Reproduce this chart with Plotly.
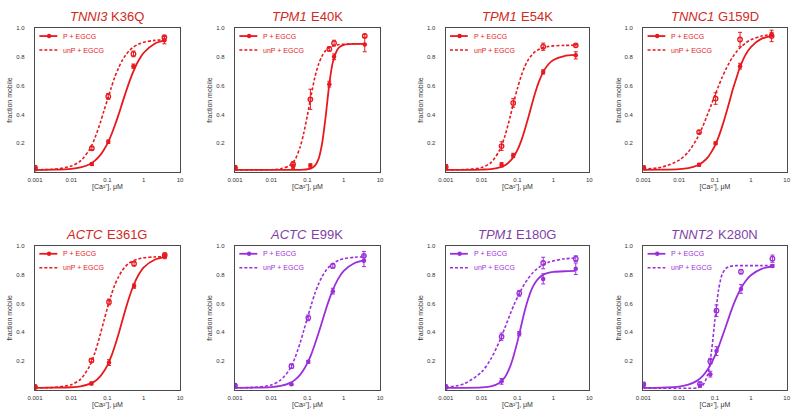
import plotly.graph_objects as go

# ---------------- data ----------------
GENES = ["TNNI3", "TPM1", "TPM1", "TNNC1", "ACTC", "ACTC", "TPM1", "TNNT2"]
MUTATIONS = ["K36Q", "E40K", "E54K", "G159D", "E361G", "E99K", "E180G", "K280N"]
SERIES = ["P + EGCG", "unP + EGCG"]
X_TICKS = [0.001, 0.01, 0.1, 1, 10]
X_TICK_TEXT = ["0.001", "0.01", "0.1", "1", "10"]
Y_TICKS = [0.2, 0.4, 0.6, 0.8, 1.0]
Y_TICK_TEXT = ["0.2", "0.4", "0.6", "0.8", "1.0"]
X_TITLE = "[Ca²⁺], μM"
Y_TITLE = "fraction mobile"

# calcium concentrations (uM) at which the fitted curves were read
CA_FIT = [0.001, 0.0032, 0.01, 0.018, 0.032, 0.045, 0.063, 0.079, 0.1, 0.126,
          0.158, 0.2, 0.251, 0.316, 0.398, 0.501, 0.708, 1.0, 2.0, 4.0]

# panel 1  TNNI3 K36Q
p1_x = [0.001, 0.037, 0.105, 0.52, 3.7]
p1_p = [0.02, 0.055, 0.21, 0.735, 0.915]
p1_p_err = [0.012, 0.01, 0.012, 0.015, 0.025]
p1_u = [0.03, 0.165, 0.525, 0.82, 0.935]
p1_u_err = [0.01, 0.01, 0.02, 0.02, 0.015]
p1_fit_p = [0.015, 0.016, 0.022, 0.032, 0.054, 0.079, 0.117, 0.153, 0.199, 0.255,
            0.321, 0.395, 0.473, 0.550, 0.624, 0.690, 0.771, 0.828, 0.891, 0.915]
p1_fit_u = [0.016, 0.019, 0.041, 0.077, 0.157, 0.237, 0.341, 0.421, 0.504, 0.584,
            0.658, 0.721, 0.772, 0.812, 0.843, 0.865, 0.887, 0.901, 0.914, 0.918]

# panel 2  TPM1 E40K
p2_x = [0.001, 0.04, 0.12, 0.40, 0.54, 3.8]
p2_p = [0.03, 0.04, 0.045, 0.61, 0.80, 0.885]
p2_p_err = [0.01, 0.015, 0.012, 0.02, 0.02, 0.05]
p2_u = [0.03, 0.055, 0.505, 0.855, 0.895, 0.945]
p2_u_err = [0.01, 0.015, 0.07, 0.015, 0.02, 0.01]
p2_fit_p = [0.015, 0.015, 0.015, 0.015, 0.015, 0.015, 0.015, 0.016, 0.019, 0.025,
            0.042, 0.088, 0.194, 0.382, 0.607, 0.763, 0.859, 0.883, 0.890, 0.890]
p2_fit_u = [0.015, 0.015, 0.016, 0.021, 0.045, 0.085, 0.175, 0.272, 0.397, 0.532,
            0.653, 0.745, 0.805, 0.843, 0.864, 0.876, 0.884, 0.887, 0.890, 0.890]

# panel 3  TPM1 E54K
p3_x = [0.001, 0.036, 0.076, 0.52, 4.2]
p3_p = [0.04, 0.05, 0.115, 0.695, 0.81]
p3_p_err = [0.012, 0.015, 0.015, 0.015, 0.025]
p3_u = [0.035, 0.18, 0.48, 0.87, 0.88]
p3_u_err = [0.01, 0.03, 0.03, 0.025, 0.005]
p3_fit_p = [0.015, 0.015, 0.017, 0.020, 0.032, 0.047, 0.077, 0.108, 0.153, 0.214,
            0.290, 0.378, 0.469, 0.556, 0.629, 0.687, 0.745, 0.778, 0.805, 0.813]
p3_fit_u = [0.015, 0.017, 0.031, 0.064, 0.153, 0.253, 0.388, 0.487, 0.582, 0.665,
            0.730, 0.780, 0.813, 0.837, 0.852, 0.863, 0.871, 0.876, 0.879, 0.880]

# panel 4  TNNC1 G159D
p4_x = [0.001, 0.036, 0.104, 0.50, 3.8]
p4_p = [0.03, 0.05, 0.20, 0.735, 0.955]
p4_p_err = [0.01, 0.01, 0.01, 0.02, 0.015]
p4_u = [0.03, 0.277, 0.51, 0.92, 0.945]
p4_u_err = [0.01, 0.01, 0.04, 0.05, 0.04]
p4_fit_p = [0.015, 0.016, 0.020, 0.027, 0.045, 0.068, 0.102, 0.138, 0.184, 0.244,
            0.315, 0.399, 0.486, 0.576, 0.655, 0.729, 0.813, 0.868, 0.926, 0.946]
p4_fit_u = [0.020, 0.033, 0.082, 0.139, 0.235, 0.313, 0.404, 0.468, 0.534, 0.597,
            0.657, 0.712, 0.760, 0.801, 0.835, 0.863, 0.895, 0.918, 0.944, 0.956]

# panel 5  ACTC E361G
p5_x = [0.001, 0.036, 0.11, 0.54, 3.8]
p5_p = [0.025, 0.045, 0.19, 0.72, 0.925]
p5_p_err = [0.01, 0.01, 0.02, 0.015, 0.015]
p5_u = [0.02, 0.205, 0.61, 0.875, 0.935]
p5_u_err = [0.01, 0.01, 0.02, 0.015, 0.015]
p5_fit_p = [0.015, 0.016, 0.019, 0.025, 0.042, 0.061, 0.095, 0.128, 0.173, 0.231,
            0.302, 0.384, 0.473, 0.561, 0.643, 0.714, 0.795, 0.850, 0.903, 0.922]
p5_fit_u = [0.015, 0.018, 0.037, 0.074, 0.165, 0.259, 0.384, 0.477, 0.570, 0.655,
            0.727, 0.783, 0.826, 0.857, 0.880, 0.894, 0.908, 0.916, 0.922, 0.924]

# panel 6  ACTC E99K
p6_x = [0.001, 0.036, 0.105, 0.50, 3.6]
p6_p = [0.035, 0.04, 0.195, 0.685, 0.895]
p6_p_err = [0.01, 0.008, 0.01, 0.02, 0.04]
p6_u = [0.03, 0.165, 0.50, 0.86, 0.93]
p6_u_err = [0.01, 0.015, 0.02, 0.015, 0.03]
p6_fit_p = [0.015, 0.016, 0.020, 0.028, 0.048, 0.070, 0.107, 0.142, 0.188, 0.245,
            0.314, 0.391, 0.471, 0.553, 0.628, 0.694, 0.772, 0.825, 0.880, 0.900]
p6_fit_u = [0.015, 0.018, 0.035, 0.068, 0.142, 0.222, 0.328, 0.413, 0.501, 0.587,
            0.666, 0.732, 0.785, 0.825, 0.855, 0.877, 0.898, 0.910, 0.920, 0.923]

# panel 7  TPM1 E180G
p7_x = [0.001, 0.036, 0.112, 0.52, 4.2]
p7_p = [0.025, 0.06, 0.39, 0.77, 0.84]
p7_p_err = [0.01, 0.02, 0.015, 0.035, 0.04]
p7_u = [0.02, 0.37, 0.67, 0.88, 0.91]
p7_u_err = [0.01, 0.025, 0.02, 0.04, 0.02]
p7_fit_p = [0.015, 0.015, 0.018, 0.025, 0.051, 0.090, 0.166, 0.242, 0.337, 0.443,
            0.546, 0.634, 0.700, 0.746, 0.777, 0.796, 0.811, 0.818, 0.823, 0.825]
p7_fit_u = [0.018, 0.042, 0.125, 0.214, 0.342, 0.434, 0.528, 0.588, 0.643, 0.693,
            0.737, 0.774, 0.805, 0.830, 0.850, 0.866, 0.884, 0.895, 0.909, 0.915]

# panel 8  TNNT2 K280N
p8_x = [0.001, 0.038, 0.074, 0.11, 0.53, 4.0]
p8_p = [0.03, 0.03, 0.11, 0.27, 0.70, 0.86]
p8_p_err = [0.015, 0.01, 0.02, 0.03, 0.03, 0.01]
p8_u = [0.04, 0.043, 0.20, 0.55, 0.82, 0.91]
p8_u_err = [0.01, 0.01, 0.02, 0.04, 0.015, 0.025]
p8_fit_p = [0.015, 0.017, 0.024, 0.037, 0.065, 0.096, 0.143, 0.186, 0.238, 0.299,
            0.368, 0.440, 0.512, 0.581, 0.642, 0.694, 0.754, 0.795, 0.839, 0.856]
p8_fit_u = [0.012, 0.012, 0.012, 0.012, 0.015, 0.031, 0.109, 0.258, 0.491, 0.695,
            0.801, 0.842, 0.855, 0.860, 0.862, 0.862, 0.862, 0.862, 0.862, 0.862]

# ---------------- styling ----------------
RED_LINE, RED_TITLE = "#e8191e", "#d02a22"
PUR_LINE, PUR_TITLE = "#9b2fdb", "#7f3fa8"
LINE_COLORS = [RED_LINE] * 5 + [PUR_LINE] * 3
TITLE_COLORS = [RED_TITLE] * 5 + [PUR_TITLE] * 3
FONT = "Liberation Sans, Arial, sans-serif"
TITLE_SIZE = 13

# Arial advance widths (1/1000 em) used only to butt the italic gene name
# against the upright mutation label in each panel title
ARIAL_W = {"T": 611, "N": 722, "I": 278, "C": 722, "P": 667, "M": 833, "A": 667,
           "K": 667, "Q": 778, "E": 667, "G": 778, "D": 722, " ": 278}


def text_width(s, size):
    return sum(ARIAL_W.get(ch, 556) for ch in s) * size / 1000.0


COL_DOMAINS = [[35 / 800, 180 / 800], [235 / 800, 380 / 800],
               [445.7 / 800, 589.3 / 800], [643.3 / 800, 786.7 / 800]]
ROW_DOMAINS = [[1 - 172 / 418, 1 - 28 / 418], [1 - 390 / 418, 1 - 245.7 / 418]]
TITLE_Y = [1 - 16.7 / 418, 1 - 234 / 418]

panels = [
    (p1_x, p1_p, p1_p_err, p1_u, p1_u_err, p1_fit_p, p1_fit_u),
    (p2_x, p2_p, p2_p_err, p2_u, p2_u_err, p2_fit_p, p2_fit_u),
    (p3_x, p3_p, p3_p_err, p3_u, p3_u_err, p3_fit_p, p3_fit_u),
    (p4_x, p4_p, p4_p_err, p4_u, p4_u_err, p4_fit_p, p4_fit_u),
    (p5_x, p5_p, p5_p_err, p5_u, p5_u_err, p5_fit_p, p5_fit_u),
    (p6_x, p6_p, p6_p_err, p6_u, p6_u_err, p6_fit_p, p6_fit_u),
    (p7_x, p7_p, p7_p_err, p7_u, p7_u_err, p7_fit_p, p7_fit_u),
    (p8_x, p8_p, p8_p_err, p8_u, p8_u_err, p8_fit_p, p8_fit_u),
]

fig = go.Figure()
layout = dict(
    width=800, height=418, margin=dict(l=0, r=0, t=0, b=0, autoexpand=False),
    paper_bgcolor="white", plot_bgcolor="white", showlegend=False,
    font=dict(family=FONT, color="#333333"),
)
shapes, annotations = [], []
DASH = "3px,2px"

for i, (px, pp, ppe, pu, pue, fp, fu) in enumerate(panels):
    n = i + 1
    s = "" if n == 1 else str(n)
    xa, ya = "x" + s, "y" + s
    col = LINE_COLORS[i]
    r, c = divmod(i, 4)

    # fitted curves
    fig.add_trace(go.Scatter(x=CA_FIT, y=fu, mode="lines", xaxis=xa, yaxis=ya,
                             line=dict(color=col, width=1.6, dash=DASH, shape="spline", smoothing=0.8),
                             name=SERIES[1], hoverinfo="skip"))
    fig.add_trace(go.Scatter(x=CA_FIT, y=fp, mode="lines", xaxis=xa, yaxis=ya,
                             line=dict(color=col, width=1.8, shape="spline", smoothing=0.8),
                             name=SERIES[0], hoverinfo="skip"))
    # measured points
    fig.add_trace(go.Scatter(x=px, y=pu, mode="markers", xaxis=xa, yaxis=ya, name=SERIES[1],
                             marker=dict(symbol="circle-open", size=4.5, color=col, line=dict(width=1.3)),
                             error_y=dict(type="data", array=pue, visible=True, color=col,
                                          thickness=1, width=2)))
    fig.add_trace(go.Scatter(x=px, y=pp, mode="markers", xaxis=xa, yaxis=ya, name=SERIES[0],
                             marker=dict(symbol="circle", size=4.5, color=col),
                             error_y=dict(type="data", array=ppe, visible=True, color=col,
                                          thickness=1, width=2)))

    axis_common = dict(showline=True, mirror=True, linecolor="#4a4a4a", linewidth=1.3,
                       showgrid=False, zeroline=False, automargin=False,
                       tickfont=dict(size=6, color="#333333", family=FONT))
    layout["xaxis" + s] = dict(axis_common, type="log", range=[-3, 1], domain=COL_DOMAINS[c],
                               anchor=ya, tickvals=X_TICKS, ticktext=X_TICK_TEXT,
                               ticks="outside", ticklen=2, tickcolor="rgba(0,0,0,0)",
                               title=dict(text=X_TITLE, standoff=1,
                                          font=dict(size=7, color="#333333", family=FONT)))
    layout["yaxis" + s] = dict(axis_common, range=[0, 1], domain=ROW_DOMAINS[r], anchor=xa,
                               tickvals=Y_TICKS, ticktext=Y_TICK_TEXT,
                               ticks="outside", ticklen=8, tickcolor="rgba(0,0,0,0)",
                               title=dict(text=Y_TITLE, standoff=2,
                                          font=dict(size=7, color="#333333", family=FONT)))

    # panel title: italic gene symbol + upright mutation, centred together
    g_w = text_width(GENES[i], TITLE_SIZE)
    m_w = text_width(" " + MUTATIONS[i], TITLE_SIZE)
    junction = (g_w - m_w) / 2.0
    space_w = text_width(" ", TITLE_SIZE)
    annotations.append(dict(text=GENES[i], xref=xa + " domain", x=0.5, xshift=junction,
                            yref="paper", y=TITLE_Y[r], xanchor="right", yanchor="middle",
                            showarrow=False, borderpad=0, borderwidth=0,
                            font=dict(size=TITLE_SIZE, color=TITLE_COLORS[i], family=FONT,
                                      style="italic")))
    annotations.append(dict(text=MUTATIONS[i], xref=xa + " domain", x=0.5,
                            xshift=junction + space_w,
                            yref="paper", y=TITLE_Y[r], xanchor="left", yanchor="middle",
                            showarrow=False, borderpad=0, borderwidth=0,
                            font=dict(size=TITLE_SIZE, color=TITLE_COLORS[i], family=FONT)))
    # legend (drawn inside each panel, top-left)
    for k, ly in enumerate([0.944, 0.847]):
        shapes.append(dict(type="line", xref=xa + " domain", yref=ya + " domain",
                           x0=0.030, x1=0.154, y0=ly, y1=ly,
                           line=dict(color=col, width=1.8 if k == 0 else 1.6,
                                     dash="solid" if k == 0 else DASH)))
        annotations.append(dict(text=SERIES[k], xref=xa + " domain", yref=ya + " domain",
                                x=0.195, y=ly, xanchor="left", yanchor="middle", showarrow=False,
                                borderpad=0, borderwidth=0,
                                font=dict(size=7, color=col, family=FONT)))
    shapes.append(dict(type="circle", xref=xa + " domain", yref=ya + " domain",
                       xsizemode="pixel", ysizemode="pixel", xanchor=0.097, yanchor=0.944,
                       x0=-2.2, x1=2.2, y0=-2.2, y1=2.2, fillcolor=col, line=dict(width=0)))

layout["shapes"] = shapes
layout["annotations"] = annotations
fig.update_layout(**layout)
fig.write_html("out.html", config={"displayModeBar": False},
               post_script="document.body.style.margin='0px';document.body.style.overflow='hidden';")
